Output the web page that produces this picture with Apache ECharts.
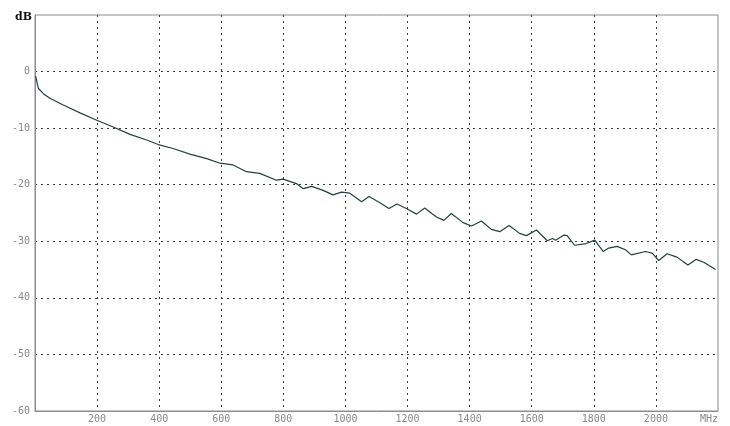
<!DOCTYPE html>
<html>
<head>
<meta charset="utf-8">
<script src="https://cdn.jsdelivr.net/npm/echarts@6/dist/echarts.min.js"></script>
<style>
html,body{margin:0;padding:0;background:#fff;}
#chart{width:730px;height:426px;}
</style>
</head>
<body>
<div id="chart"></div>
<script>
// Frequency (MHz) and attenuation (dB)
const freqMHz = [2, 11, 27, 48, 91, 145, 199, 252, 306, 360, 397, 445, 499, 553, 596, 638, 681, 724, 778, 799, 842, 864, 891, 928, 960, 987, 1014, 1052, 1076, 1111, 1140, 1166, 1196, 1229, 1255, 1293, 1317, 1341, 1379, 1406, 1438, 1470, 1497, 1527, 1561, 1583, 1615, 1650, 1667, 1677, 1704, 1714, 1738, 1776, 1803, 1830, 1848, 1875, 1902, 1921, 1966, 1988, 2009, 2036, 2068, 2103, 2129, 2154, 2192];
const attenDb = [-0.8, -3.0, -3.9, -4.7, -5.9, -7.3, -8.6, -9.8, -11.1, -12.1, -12.9, -13.6, -14.6, -15.4, -16.2, -16.5, -17.7, -18.0, -19.2, -19.0, -19.8, -20.7, -20.3, -21.0, -21.8, -21.3, -21.5, -23.0, -22.1, -23.2, -24.2, -23.4, -24.2, -25.2, -24.1, -25.7, -26.3, -25.1, -26.7, -27.3, -26.4, -27.9, -28.3, -27.2, -28.6, -29.0, -28.0, -29.9, -29.5, -29.8, -28.9, -29.0, -30.7, -30.4, -29.8, -31.8, -31.2, -30.9, -31.5, -32.4, -31.8, -32.1, -33.4, -32.2, -32.8, -34.2, -33.2, -33.7, -35.0];
const xTicks = [0, 200, 400, 600, 800, 1000, 1200, 1400, 1600, 1800, 2000, 2200];
const xTickLabels = ['', '200', '400', '600', '800', '1000', '1200', '1400', '1600', '1800', '2000', 'MHz'];
const yTicks = [-60, -50, -40, -30, -20, -10, 0, 10];
const yTickLabels = ['-60', '-50', '-40', '-30', '-20', '-10', '0', ''];
const yUnit = 'dB';

const chart = echarts.init(document.getElementById('chart'), null, {renderer: 'canvas'});
const labelFont = {color: '#8a8a8a', fontFamily: 'DejaVu Sans Mono', fontSize: 10};
const gridDots = {show: true, showMinLine: false, showMaxLine: false, lineStyle: {color: '#3a3a3a', width: 1, type: [2, 4]}};

chart.setOption({
  animation: false,
  backgroundColor: '#ffffff',
  grid: {left: 35, right: 12, top: 15, bottom: 15, show: true, borderColor: '#8c8c8c', borderWidth: 1, containLabel: false},
  graphic: [{type: 'text', left: 15, top: 12, style: {text: yUnit, font: 'bold 11px "DejaVu Serif"', fill: '#111'}}],
  xAxis: {
    type: 'value', min: xTicks[0], max: xTicks[xTicks.length - 1], interval: 200,
    axisLine: {show: true, onZero: false, lineStyle: {color: '#8c8c8c', width: 1}},
    axisTick: {show: false},
    axisLabel: Object.assign({margin: 3, alignMaxLabel: 'right',
      formatter: v => { const i = xTicks.indexOf(v); return i >= 0 ? xTickLabels[i] : ''; }}, labelFont),
    splitLine: gridDots
  },
  yAxis: {
    type: 'value', min: yTicks[0], max: yTicks[yTicks.length - 1], interval: 10,
    axisLine: {show: true, onZero: false, lineStyle: {color: '#8c8c8c', width: 1}},
    axisTick: {show: false},
    axisLabel: Object.assign({margin: 5, padding: [0, 0, 6, 0],
      formatter: v => { const i = yTicks.indexOf(v); return i >= 0 ? yTickLabels[i] : ''; }}, labelFont),
    splitLine: gridDots
  },
  series: [{
    type: 'line',
    data: freqMHz.map((f, i) => [f, attenDb[i]]),
    showSymbol: false,
    symbol: 'none',
    smooth: false,
    lineStyle: {color: '#243f3f', width: 1.2}
  }]
});
</script>
</body>
</html>
